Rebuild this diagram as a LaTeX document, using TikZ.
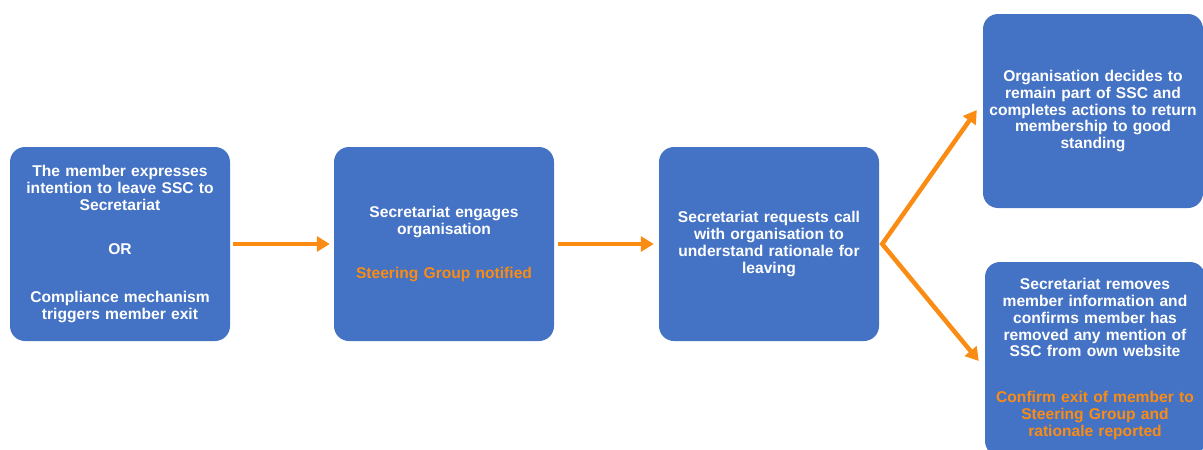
\documentclass[tikz,border=0pt]{standalone}
\usepackage{fontspec}
\setmainfont{Liberation Sans}
\usetikzlibrary{arrows.meta,positioning,calc}
\definecolor{boxblue}{RGB}{68,114,196}
\definecolor{flowor}{RGB}{250,140,20}

\begin{document}
\begin{tikzpicture}[x=1pt,y=-1pt,
  stepbox/.style={fill=boxblue,rounded corners=15pt,minimum width=220pt,minimum height=194pt,
    inner sep=2pt,text width=216pt,align=center,text=white,
    font=\bfseries\fontsize{15.6}{16.8}\selectfont},
  flow/.style={draw=flowor,line width=4.5pt,-{Triangle[length=13pt,width=15pt]}},
  fork/.style={draw=flowor,line width=4.5pt,line join=miter,
    {Triangle[length=13pt,width=15pt]}-{Triangle[length=13pt,width=15pt]}}]
\useasboundingbox (0,0) rectangle (1203,450);

\node[stepbox] (leave) at (120,244) {The member expresses\\ intention to leave SSC to\\ Secretariat\\[28pt]
  OR\\[31pt] Compliance mechanism\\ triggers member exit};
\node[stepbox] (engage) at (444,244) {Secretariat engages\\ organisation\\[28pt]
  \textcolor{flowor}{Steering Group notified}};
\node[stepbox] (call) at (769,244) {Secretariat requests call\\ with organisation to\\ understand rationale for\\ leaving};
\node[stepbox] (remain) at (1093,111) {Organisation decides to\\ remain part of SSC and\\ completes actions to return\\ membership to good\\ standing};
\node[stepbox] (remove) at (1095,359) {Secretariat removes\\ member information and\\ confirms member has\\ removed any mention of\\ SSC from own website\\[29pt]
  \textcolor{flowor}{Confirm exit of member to\\ Steering Group and\\ rationale reported}};

\coordinate (split) at ([xshift=3pt]call.east);

\draw[flow,shorten <=3pt,shorten >=4pt] (leave) -- (engage);
\draw[flow,shorten <=4pt,shorten >=5pt] (engage) -- (call);
\draw[fork] ([xshift=-6pt,yshift=1pt]remain.west) -- (split) -- ([xshift=-6pt,yshift=-2pt]remove.west);

\end{tikzpicture}
\end{document}
